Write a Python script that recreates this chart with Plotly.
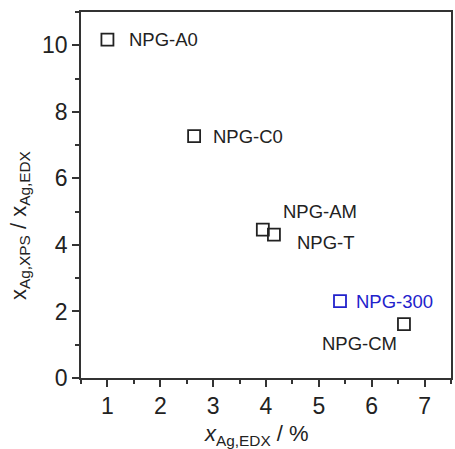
import plotly.graph_objects as go

names = ["NPG-A0", "NPG-C0", "NPG-AM", "NPG-T", "NPG-300", "NPG-CM"]
x_edx = [1.0, 2.64, 3.94, 4.15, 5.40, 6.61]
ratio = [10.17, 7.27, 4.46, 4.31, 2.31, 1.62]
colors = ["#222222", "#222222", "#222222", "#222222", "#2222cc", "#222222"]

# label placement (pixel offsets relative to each point)
lab_dx = [20, 17, 18, 21, 14, -84]
lab_dy = [0, 0, 18, -8, 0, -19]

fig = go.Figure()
fig.add_trace(go.Scatter(
    x=x_edx, y=ratio, mode="markers",
    marker=dict(symbol="square-open", size=12, color=colors, line=dict(width=1.8, color=colors)),
    showlegend=False,
))

for n, xv, yv, c, dx, dy in zip(names, x_edx, ratio, colors, lab_dx, lab_dy):
    fig.add_annotation(x=xv, y=yv, text=n, showarrow=False, xanchor="left", yanchor="middle",
                       xshift=dx, yshift=dy, font=dict(size=18.5, color=c, family="Liberation Sans, Arial"))

axis_common = dict(
    showline=True, linecolor="#333333", linewidth=1.5, mirror=True,
    ticks="outside", ticklen=7, tickwidth=1.5, tickcolor="#333333",
    showgrid=False, zeroline=False,
    tickfont=dict(size=23, color="#222222", family="Liberation Sans, Arial"),
)

fig.update_xaxes(range=[0.5, 7.5], dtick=1, tick0=0,
                 minor=dict(dtick=0.5, ticks="outside", ticklen=4, tickwidth=1.5, tickcolor="#333333"),
                 **axis_common)
fig.update_yaxes(range=[0, 11], dtick=2, tick0=0,
                 minor=dict(dtick=1, ticks="outside", ticklen=4, tickwidth=1.5, tickcolor="#333333"),
                 **axis_common)

# axis titles as annotations (positioned like the reference)
title_font = dict(size=22, color="#222222", family="Liberation Sans, Arial")
fig.add_annotation(text="<i>x</i><sub>Ag,EDX</sub> / %", xref="paper", yref="paper",
                   x=0.473, y=0, yshift=-57, xanchor="center", yanchor="middle",
                   showarrow=False, font=title_font)
fig.add_annotation(text="x<sub>Ag,XPS</sub> / x<sub>Ag,EDX</sub>", xref="paper", yref="paper",
                   x=0, xshift=-61, y=0.415, xanchor="center", yanchor="middle", textangle=-90,
                   showarrow=False, font=title_font)

fig.update_layout(
    width=455, height=449,
    margin=dict(l=81, r=2, t=12, b=71),
    plot_bgcolor="white", paper_bgcolor="white",
)

fig.write_html("out.html")
